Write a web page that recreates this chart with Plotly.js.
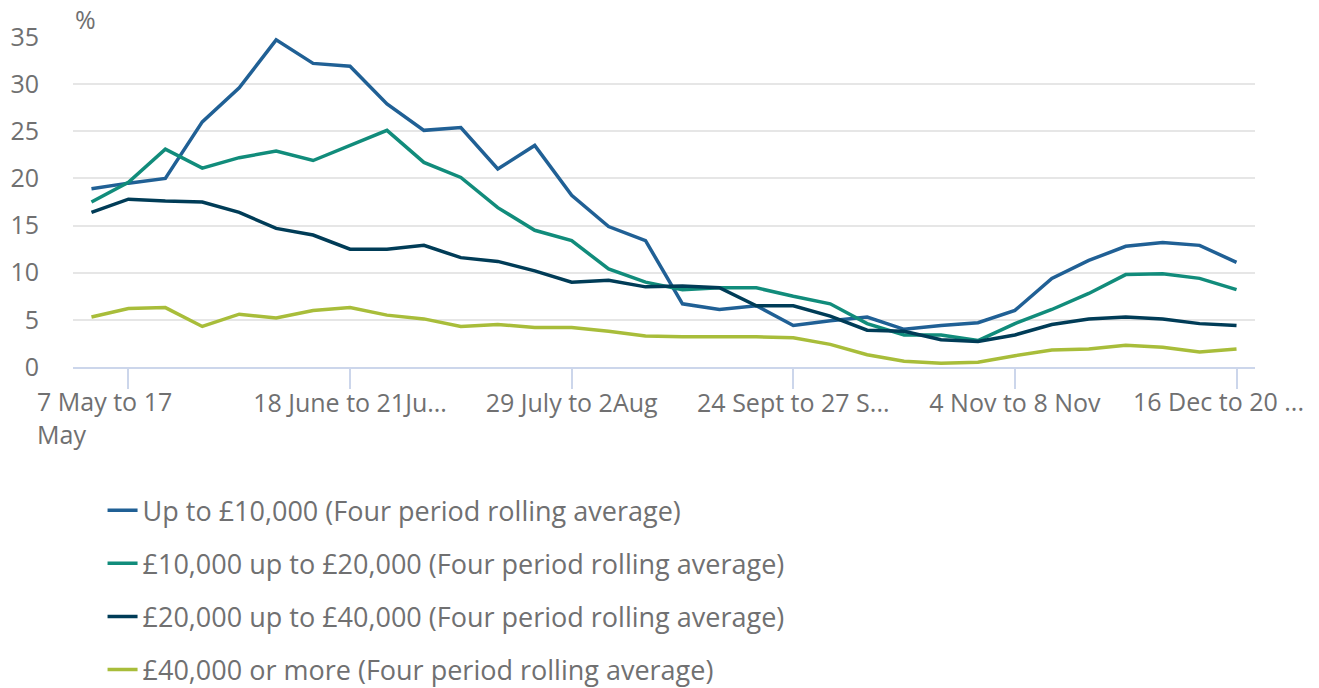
<!DOCTYPE html>
<html>
<head>
<meta charset="utf-8">
<script src="https://cdn.plot.ly/plotly-3.0.1.min.js"></script>
<style>html,body{margin:0;padding:0;background:#fff;}#chart{width:1319px;height:688px;}</style>
</head>
<body>
<div id="chart"></div>
<script>
// Period positions (32 weekly periods); only every sixth is labelled on the axis
const periodIndex = [0,1,2,3,4,5,6,7,8,9,10,11,12,13,14,15,16,17,18,19,20,21,22,23,24,25,26,27,28,29,30,31];
const tickIndex = [1,7,13,19,25,31];
const tickLabels = ["7 May to 17<br>May", "18 June to 21Ju...", "29 July to 2Aug", "24 Sept to 27 S...", "4 Nov to 8 Nov", "16 Dec to 20 ..."];

const seriesNames = [
  "Up to £10,000 (Four period rolling average)",
  "£10,000 up to £20,000 (Four period rolling average)",
  "£20,000 up to £40,000 (Four period rolling average)",
  "£40,000 or more (Four period rolling average)"
];

const upTo10k = [18.9,19.5,20.0,26.0,29.6,34.7,32.2,31.9,27.9,25.1,25.4,21.0,23.5,18.2,14.9,13.4,6.7,6.1,6.5,4.4,4.9,5.3,4.0,4.4,4.7,6.0,9.4,11.3,12.8,13.2,12.9,11.1];
const from10kTo20k = [17.5,19.6,23.1,21.1,22.2,22.9,21.9,23.5,25.1,21.7,20.1,16.9,14.5,13.4,10.4,9.0,8.2,8.4,8.4,7.5,6.7,4.6,3.4,3.4,2.8,4.6,6.1,7.8,9.8,9.9,9.4,8.2];
const from20kTo40k = [16.4,17.8,17.6,17.5,16.4,14.7,14.0,12.5,12.5,12.9,11.6,11.2,10.2,9.0,9.2,8.5,8.6,8.4,6.5,6.5,5.4,3.9,3.8,2.9,2.7,3.4,4.5,5.1,5.3,5.1,4.6,4.4];
const over40k = [5.3,6.2,6.3,4.3,5.6,5.2,6.0,6.3,5.5,5.1,4.3,4.5,4.2,4.2,3.8,3.3,3.2,3.2,3.2,3.1,2.4,1.3,0.6,0.4,0.5,1.2,1.8,1.9,2.3,2.1,1.6,1.9];

const seriesValues = [upTo10k, from10kTo20k, from20kTo40k, over40k];
const seriesColors = ["#206095", "#118c7b", "#003c57", "#a8bd3a"];

const FONT = "'Open Sans', 'Noto Sans', sans-serif";
const GREY = "#707071";
const TICK_SIZE = 25;

const traces = seriesValues.map((vals, i) => ({
  type: "scatter",
  mode: "lines",
  x: periodIndex,
  y: vals,
  name: seriesNames[i],
  legendgroup: "g" + i,
  line: {color: seriesColors[i], width: 3.5},
  hoverinfo: "y+name"
}));

// first and last axis labels are nudged inwards (as in the original), the rest sit on their ticks
const lastI = tickLabels.length - 1;
const ticktext = tickLabels.map((t, i) => (i === 0 || i === lastI) ? "" : t);

const layout = {
  width: 1319,
  height: 688,
  margin: {l: 73, r: 64, t: 37, b: 321, autoexpand: false},
  paper_bgcolor: "#ffffff",
  plot_bgcolor: "#ffffff",
  font: {family: FONT, color: GREY, size: TICK_SIZE},
  showlegend: true,
  legend: {
    orientation: "v",
    x: 0.025, xanchor: "left",
    y: -0.361, yanchor: "top",
    font: {family: FONT, size: 27, color: GREY},
    traceorder: "grouped",
    tracegroupgap: 15,
    bgcolor: "rgba(0,0,0,0)"
  },
  xaxis: {
    range: [-0.5, 31.5],
    tickmode: "array",
    tickvals: tickIndex,
    ticktext: ticktext,
    showgrid: false,
    zeroline: false,
    showline: true,
    linecolor: "#ccd6eb",
    linewidth: 2,
    ticks: "outside",
    ticklen: 20,
    tickwidth: 2,
    tickcolor: "#ccd6eb",
    tickangle: 0,
    ticklabelstandoff: -7,
    tickfont: {family: FONT, size: TICK_SIZE, color: GREY},
    fixedrange: true
  },
  yaxis: {
    range: [0, 35],
    tickmode: "array",
    tickvals: [0,5,10,15,20,25,30,35],
    showgrid: true,
    gridcolor: "#e6e6e6",
    gridwidth: 2,
    zeroline: false,
    showline: false,
    ticks: "",
    ticklabelstandoff: 33,
    tickfont: {family: FONT, size: TICK_SIZE, color: GREY},
    fixedrange: true
  },
  annotations: [
    {
      text: "%",
      xref: "paper", yref: "paper",
      x: 0, y: 1, xanchor: "left", yanchor: "bottom",
      yshift: -1,
      showarrow: false,
      font: {family: FONT, size: 25, color: GREY}
    },
    {
      text: tickLabels[0],
      xref: "x", yref: "paper",
      x: tickIndex[0], y: 0, xanchor: "left", yanchor: "top",
      xshift: -93, yshift: -15,
      align: "left",
      showarrow: false,
      font: {family: FONT, size: TICK_SIZE, color: GREY}
    },
    {
      text: tickLabels[lastI],
      xref: "x", yref: "paper",
      x: tickIndex[lastI], y: 0, xanchor: "right", yanchor: "top",
      xshift: 69, yshift: -15,
      align: "right",
      showarrow: false,
      font: {family: FONT, size: TICK_SIZE, color: GREY}
    }
  ]
};

Plotly.newPlot("chart", traces, layout, {displayModeBar: false});
</script>
</body>
</html>
